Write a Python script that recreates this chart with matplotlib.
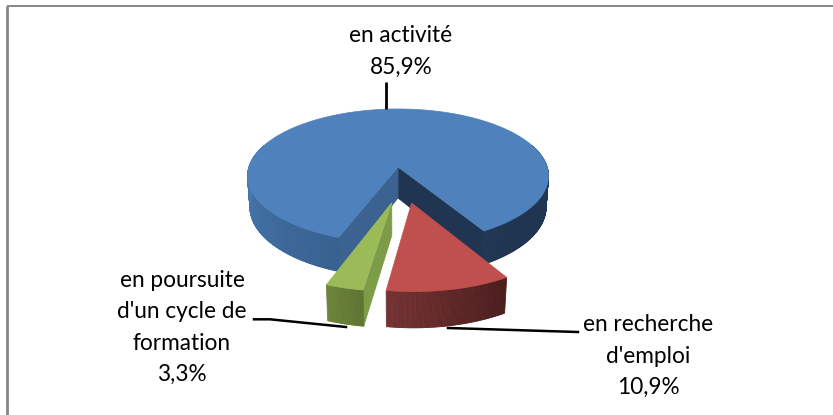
import numpy as np
import matplotlib
matplotlib.use('Agg')
import matplotlib.pyplot as plt
from matplotlib.patches import Polygon

labels = ["en activité\n85,9%", "en recherche\nd'emploi\n10,9%", "en poursuite\nd'un cycle de\nformation\n3,3%"]
values = [85.9, 10.9, 3.3]
start_angle = 110.4

top_colors = ['#4F81BD', '#C0504D', '#9BBB59']

# perspective of the pie, in pixels of the picture
cx, cy = 398, 167
f, g, k = 149.1, 65.8, 0.134
h, m = 31.5, 0.016


def project(u, v, low=False):
    w = 1 - k * v
    if low:
        return cx + f * u / (w + m), cy + (g * v + h) / (w + m)
    return cx + f * u / w, cy + g * v / w


def arc(a0, a1, off, low=False):
    t = np.radians(np.linspace(a0, a1, max(int(abs(a1 - a0)) * 2, 8)))
    x, y = project(off[0] + np.cos(t), off[1] + np.sin(t), low)
    return np.column_stack([x, y])


def hex_mix(c0, c1, t):
    a = np.array(matplotlib.colors.to_rgb(c0))
    b = np.array(matplotlib.colors.to_rgb(c1))
    return a + (b - a) * t


def wall(ax, a0, a1, off, c0, c1):
    # outer side of a slice, as thin strips for the shading
    top = arc(a0, a1, off)
    low = arc(a0, a1, off, True)
    n = len(top) - 1
    for i in range(n):
        col = hex_mix(c0, c1, i / max(n - 1, 1))
        ax.add_patch(Polygon([top[i], top[i + 1], low[i + 1], low[i]], fc=col, ec=col, lw=0.6))


def face(ax, angle, off, col):
    # flat cut side from the centre of a slice to its rim
    t = np.radians(angle)
    p = [project(off[0], off[1]),
         project(off[0] + np.cos(t), off[1] + np.sin(t)),
         project(off[0] + np.cos(t), off[1] + np.sin(t), True),
         project(off[0], off[1], True)]
    ax.add_patch(Polygon(p, fc=col, ec=col, lw=0.5))


def top(ax, a0, a1, off, col):
    p = np.vstack([[project(off[0], off[1])], arc(a0, a1, off)])
    ax.add_patch(Polygon(p, fc=col, ec=col, lw=0.5))


fig = plt.figure(figsize=(8.33, 4.15), dpi=100)
ax = fig.add_axes([0, 0, 1, 1])
ax.set_xlim(0, 833)
ax.set_ylim(415, 0)
ax.axis('off')

plt.rcParams['font.family'] = ['Lato', 'DejaVu Sans']

sweeps = [v / sum(values) * 360 for v in values]
a_blue = start_angle
a_red = a_blue + sweeps[0]
a_green = a_red + sweeps[1]
a_end = a_green + sweeps[2]

blue_off = (0, 0)
red_off = (0.085, 0.51)
green_off = (-0.039, 0.506)

# blue slice first, it is behind the others
face(ax, a_red, blue_off, '#1F3552')
face(ax, a_blue, blue_off, '#3B6290')
wall(ax, a_blue, 200, blue_off, '#36608F', '#4F7FB8')
wall(ax, 340, a_red, blue_off, '#1F3552', '#1F3552')
top(ax, a_blue, a_red, blue_off, top_colors[0])

# red
wall(ax, a_red - 360, a_green - 360, red_off, '#4A1C1C', '#743232')
top(ax, a_red, a_green, red_off, top_colors[1])

# green
face(ax, a_green - 360, green_off, '#7D9C47')
wall(ax, a_green - 360, a_end - 360, green_off, '#5F7332', '#6C843B')
top(ax, a_green, a_end, green_off, top_colors[2])

# leader lines
ax.plot([386.5, 386.5], [82, 109], color='black', lw=2, solid_capstyle='butt')
ax.plot([448, 578], [328, 332], color='black', lw=1.8)
ax.plot([254, 270, 346], [319.3, 319.3, 327], color='black', lw=1.8)

# labels
ax.text(401, 51.5, labels[0], ha='center', va='center', fontsize=16.3, linespacing=1.62, color='black')
ax.text(648, 356, labels[1], ha='center', va='center', fontsize=16.3, linespacing=1.62, color='black')
ax.text(182, 327.5, labels[2], ha='center', va='center', fontsize=16.3, linespacing=1.62, color='black')

# chart frame
ax.plot([7, 7], [415, 6.5], color='#868686', lw=2, solid_capstyle='butt')
ax.plot([7, 833], [6.5, 6.5], color='#868686', lw=1.4, solid_capstyle='butt')

fig.savefig('out.png', dpi=100)
